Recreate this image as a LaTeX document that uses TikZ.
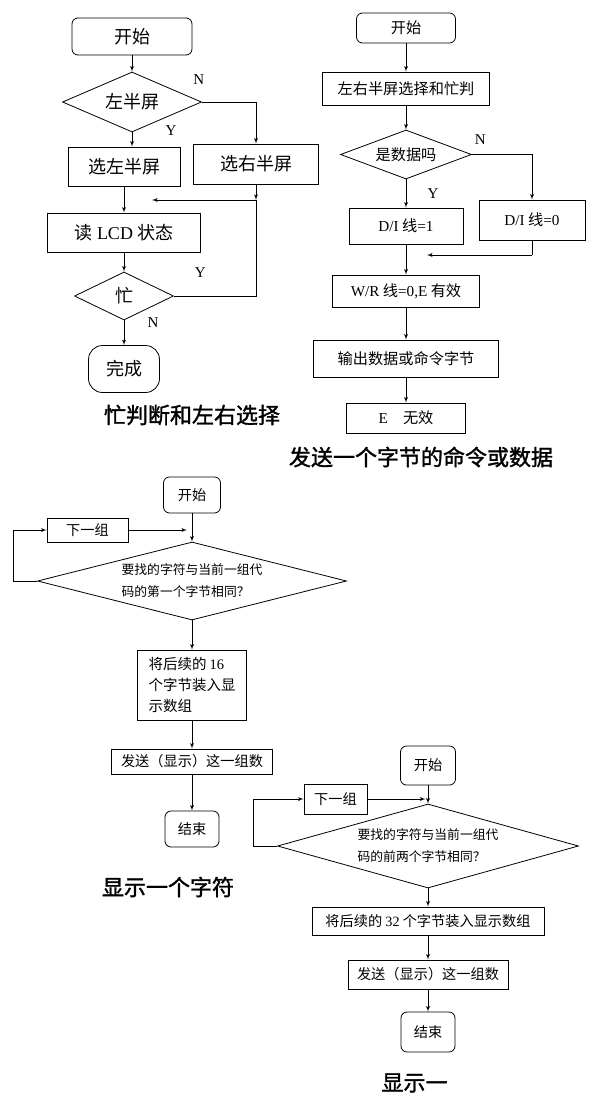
\documentclass[tikz,border=0pt]{standalone}
\usepackage{fontspec}
\setmainfont{Noto Sans CJK SC}
\newfontfamily\romfont{Liberation Serif}
\newfontfamily\capfont[FakeBold=1.5]{Noto Sans CJK SC}
\usepackage{tikz}
\usetikzlibrary{shapes,arrows,positioning}
\tikzstyle{block} = [rectangle, draw, line width=0.8pt, text centered, inner sep=0pt]
\tikzstyle{term} = [rectangle, draw, line width=0.8pt, rounded corners=6pt, text centered, inner sep=0pt]
\tikzstyle{decision} = [diamond, draw, line width=0.8pt, inner sep=0pt]
\tikzstyle{line} = [draw, line width=0.9pt, -latex']
\tikzstyle{wire} = [draw, line width=0.9pt]
\tikzstyle{yn} = [font=\fontsize{15}{15}\selectfont\romfont]
\tikzstyle{caption} = [font=\fontsize{22}{22}\selectfont\capfont]
\tikzstyle{fa} = [font=\fontsize{18}{21}\selectfont]
\tikzstyle{fb} = [font=\fontsize{15.2}{18}\selectfont]
\tikzstyle{fc} = [font=\fontsize{14.2}{21}\selectfont]
\tikzstyle{fd} = [font=\fontsize{12.8}{22}\selectfont]

\begin{document}
\begin{tikzpicture}[x=1pt, y=1pt]
    \useasboundingbox (0,0) rectangle (592,-1098);

    % Place nodes: busy check, left/right half
    \node [term, fa, minimum width=120pt, minimum height=37pt] (a1) at (132,-36.5) {开始};
    \node [decision, fa, aspect=2.3, minimum width=139pt, minimum height=60pt, below of=a1, node distance=65.5pt] (a2) {左半屏};
    \node [block, fa, minimum width=112pt, minimum height=39pt, below of=a2, node distance=64.5pt, xshift=-8pt] (a3) {选左半屏};
    \node [block, fa, minimum width=125pt, minimum height=40pt, right of=a3, node distance=132pt, yshift=2.5pt] (a4) {选右半屏};
    \node [block, fa, minimum width=153pt, minimum height=39pt, below of=a3, node distance=66pt] (a5) {读 {\romfont LCD} 状态\hspace{14pt}};
    \node [decision, fa, aspect=2.06, minimum width=99pt, minimum height=48pt, below of=a5, node distance=63.5pt] (a6) {忙};
    \node [term, fa, rounded corners=14pt, minimum width=71pt, minimum height=47pt, below of=a6, node distance=73pt] (a7) {完成};
    \coordinate [below of=a4, node distance=36pt] (j1);
    \coordinate [left of=j1, node distance=104pt] (j1e);
    \node [yn] (n1) at ([xshift=-3pt,yshift=22pt]a2.east) {N};
    \node [yn] (y1) at ([xshift=39pt,yshift=2pt]a2.south) {Y};
    \node [yn] (y2) at ([xshift=26.5pt,yshift=23pt]a6.east) {Y};
    \node [yn] (n2) at ([xshift=29pt,yshift=-2pt]a6.south) {N};
    \node [caption, below of=a7, node distance=46pt, xshift=68pt] (t1) {忙判断和左右选择};

    % Place nodes: send one byte
    \node [term, fb, minimum width=99pt, minimum height=30pt] (b1) at (406,-28) {开始};
    \node [block, fb, minimum width=167pt, minimum height=33pt, below of=b1, node distance=60.5pt] (b2) {左右半屏选择和忙判};
    \node [decision, fb, aspect=2.67, minimum width=131pt, minimum height=49pt, below of=b2, node distance=66pt] (b3) {是数据吗};
    \node [block, fb, minimum width=114pt, minimum height=36pt, below of=b3, node distance=71.5pt] (b4) {{\romfont D/I} 线{\romfont =1}};
    \node [block, fb, minimum width=106pt, minimum height=40pt, right of=b4, node distance=126pt, yshift=6pt] (b5) {{\romfont D/I} 线{\romfont =0}};
    \node [block, fb, minimum width=147pt, minimum height=32pt, below of=b4, node distance=65pt] (b6) {{\romfont W/R} 线{\romfont =0,E} 有效};
    \node [block, fb, minimum width=185pt, minimum height=37pt, below of=b6, node distance=67.5pt] (b7) {输出数据或命令字节};
    \node [block, fb, minimum width=119pt, minimum height=30pt, below of=b7, node distance=59.5pt] (b8) {{\romfont E}\quad 无效};
    \coordinate [below of=b5, node distance=35pt] (j2);
    \coordinate [left of=j2, node distance=105pt] (j2e);
    \node [yn] (n3) at ([xshift=8.5pt,yshift=14.5pt]b3.east) {N};
    \node [yn] (y3) at ([xshift=27pt,yshift=-14pt]b3.south) {Y};
    \node [caption, below of=b8, node distance=39pt, xshift=15pt] (t2) {发送一个字节的命令或数据};

    % Place nodes: show one character
    \node [term, fc, minimum width=57pt, minimum height=36pt] (c1) at (192,-495) {开始};
    \node [decision, fd, aspect=3.96, minimum width=309pt, minimum height=78pt, align=left, below of=c1, node distance=86pt] (c2) {要找的字符与当前一组代\\码的第一个字节相同？};
    \node [block, fc, minimum width=81pt, minimum height=24pt, left of=c1, node distance=104.5pt, yshift=-35pt] (c3) {下一组};
    \node [block, font=\fontsize{14.5}{21}\selectfont, minimum width=109pt, minimum height=70pt, align=left, below of=c2, node distance=104pt] (c4) {将后续的 {\romfont 16}\\个字节装入显\\示数组};
    \node [block, fc, minimum width=161pt, minimum height=25pt, below of=c4, node distance=76.5pt] (c5) {发送（显示）这一组数};
    \node [term, fc, minimum width=54pt, minimum height=36pt, below of=c5, node distance=67.5pt] (c6) {结束};
    \coordinate [left of=c2, node distance=179pt] (j3);
    \coordinate [right of=c3, node distance=99.5pt] (j3e);
    \node [caption, below of=c6, node distance=58pt, xshift=-24pt] (t3) {显示一个字符};

    % Place nodes: show one hanzi
    \node [term, fc, minimum width=55pt, minimum height=39pt] (d1) at (428,-765.5) {开始};
    \node [decision, fd, aspect=3.6, minimum width=301pt, minimum height=84pt, align=left, below of=d1, node distance=80.5pt] (d2) {要找的字符与当前一组代\\码的前两个字节相同？};
    \node [block, fc, minimum width=63pt, minimum height=30pt, left of=d1, node distance=92.5pt, yshift=-33.5pt] (d3) {下一组};
    \node [block, fc, minimum width=232pt, minimum height=28pt, below of=d2, node distance=75pt] (d4) {将后续的 {\romfont 32} 个字节装入显示数组};
    \node [block, fc, minimum width=160pt, minimum height=29pt, below of=d4, node distance=53.5pt] (d5) {发送（显示）这一组数};
    \node [term, fc, minimum width=54pt, minimum height=40pt, below of=d5, node distance=57.5pt] (d6) {结束};
    \coordinate [left of=d2, node distance=175pt] (j4);
    \coordinate [right of=d3, node distance=90pt] (j4e);
    \node [caption, anchor=west] (t4) at (378,-1083) {显示一};

    % Draw edges
    \path [line] (a1) -- (a2);
    \path [line] (a2.south) -- (a2.south |- a3.north);
    \path [line] (a2) -| (a4);
    \path [line] (a3) -- (a5);
    \path [line] (a4) -- (j1);
    \path [line] (j1) -- (j1e);
    \path [line] (a5) -- (a6);
    \path [wire] (a6) -| (j1);
    \path [line] (a6) -- (a7);

    \path [line] (b1) -- (b2);
    \path [line] (b2) -- (b3);
    \path [line] (b3) -- (b4);
    \path [line] (b3) -| (b5);
    \path [wire] (b5) -- (j2);
    \path [line] (j2) -- (j2e);
    \path [line] (b4) -- (b6);
    \path [line] (b6) -- (b7);
    \path [line] (b7) -- (b8);

    \path [line] (c1) -- (c2);
    \path [wire] (c2) -- (j3);
    \path [line] (j3) |- (c3);
    \path [line] (c3) -- (j3e);
    \path [line] (c2) -- (c4);
    \path [line] (c4) -- (c5);
    \path [line] (c5) -- (c6);

    \path [line] (d1) -- (d2);
    \path [wire] (d2) -- (j4);
    \path [line] (j4) |- (d3);
    \path [line] (d3) -- (j4e);
    \path [line] (d2) -- (d4);
    \path [line] (d4) -- (d5);
    \path [line] (d5) -- (d6);
\end{tikzpicture}
\end{document}
